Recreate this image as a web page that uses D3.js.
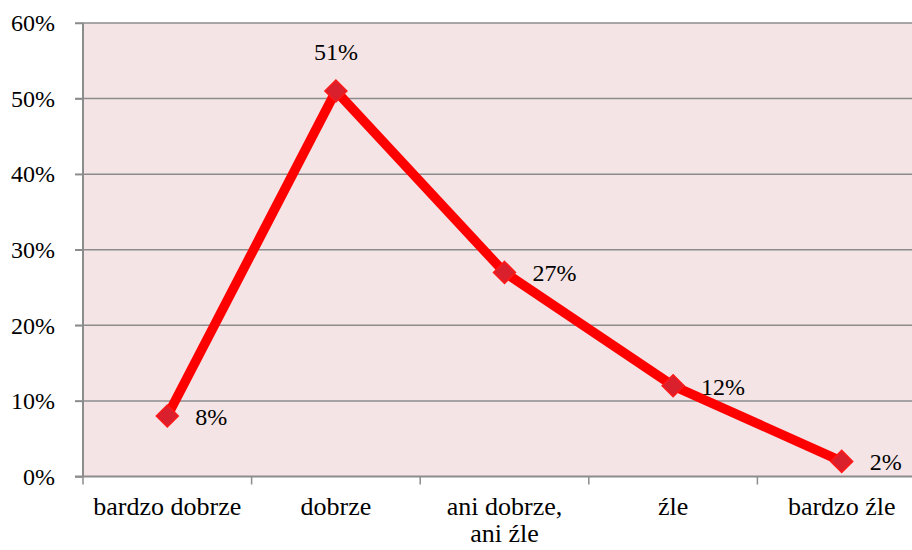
<!DOCTYPE html>
<html><head><meta charset="utf-8">
<script src="https://cdn.jsdelivr.net/npm/d3@7"></script>
<style>body{margin:0;background:#fff}svg{display:block}</style>
</head><body>
<svg id="c" width="912" height="550"></svg>
<script>
const categories = [["bardzo dobrze"], ["dobrze"], ["ani dobrze,", "ani źle"], ["źle"], ["bardzo źle"]];
const values = [8, 51, 27, 12, 2];
const yTicks = [0, 10, 20, 30, 40, 50, 60];
const labelPos = ["right", "top", "right", "right", "right"];

const font = "Liberation Serif";
const svg = d3.select("#c");
const m = {l: 83, t: 23, b: 476.5};
const bandW = 168.6;
const x = d3.scaleBand().domain(d3.range(categories.length)).range([m.l, m.l + bandW * categories.length]).padding(0);
const y = d3.scaleLinear().domain([0, 60]).range([m.b, m.t]);

svg.append("rect").attr("x", m.l).attr("y", m.t)
  .attr("width", x.range()[1] - m.l).attr("height", m.b - m.t).attr("fill", "#F5E4E5");

// gridlines
svg.append("g").selectAll("line").data(yTicks.filter(d => d > 0)).join("line")
  .attr("x1", m.l - 8).attr("x2", x.range()[1]).attr("y1", d => y(d)).attr("y2", d => y(d))
  .attr("stroke", "#8C8C8C").attr("stroke-width", 1.5);

// y axis
const ya = svg.append("g").attr("transform", `translate(${m.l},0)`)
  .call(d3.axisLeft(y).tickValues(yTicks).tickSize(8).tickFormat(d => d + "%"));
ya.select(".domain").attr("stroke", "#8C8C8C").attr("stroke-width", 2).attr("d", `M0,${m.t}V${m.b}`);
ya.selectAll(".tick line").attr("stroke", "#8C8C8C").attr("stroke-width", 1.5);
ya.selectAll(".tick text").attr("x", -28).attr("dy", "0.32em")
  .style("font-family", font).style("font-size", "24px").style("fill", "#000");

// x axis
svg.append("line").attr("x1", m.l - 8).attr("x2", x.range()[1]).attr("y1", m.b).attr("y2", m.b)
  .attr("stroke", "#8C8C8C").attr("stroke-width", 2);
svg.append("g").selectAll("line").data(d3.range(categories.length + 1)).join("line")
  .attr("x1", d => m.l + d * bandW).attr("x2", d => m.l + d * bandW)
  .attr("y1", m.b).attr("y2", m.b + 8).attr("stroke", "#8C8C8C").attr("stroke-width", 1.5);
const xl = svg.append("g").selectAll("text").data(categories).join("text")
  .attr("x", (d, i) => x(i) + x.bandwidth() / 2).attr("y", 515)
  .attr("text-anchor", "middle")
  .style("font-family", font).style("font-size", "26px").style("fill", "#000");
xl.selectAll("tspan").data(d => d).join("tspan")
  .attr("x", function() { return this.parentNode.getAttribute("x"); })
  .attr("dy", (d, j) => j === 0 ? 0 : 27).text(d => d);

// line
const cx = i => x(i) + x.bandwidth() / 2;
svg.append("path").datum(values)
  .attr("d", d3.line().x((d, i) => cx(i)).y(d => y(d)))
  .attr("fill", "none").attr("stroke", "#FF0000").attr("stroke-width", 9.5).attr("stroke-linejoin", "miter");

// markers
svg.append("g").selectAll("path").data(values).join("path")
  .attr("transform", (d, i) => `translate(${cx(i)},${y(d)})`)
  .attr("d", "M0,-11L11,0L0,11L-11,0Z")
  .attr("fill", "#D9202C").attr("stroke", "#FF1A1A").attr("stroke-width", 1.5);

// labels
svg.append("g").selectAll("text").data(values).join("text")
  .attr("x", (d, i) => labelPos[i] === "top" ? cx(i) : cx(i) + 28)
  .attr("y", (d, i) => labelPos[i] === "top" ? y(d) - 31 : y(d) + 9)
  .attr("text-anchor", (d, i) => labelPos[i] === "top" ? "middle" : "start")
  .style("font-family", font).style("font-size", "24px").style("fill", "#000")
  .text(d => d + "%");
</script>
</body></html>
